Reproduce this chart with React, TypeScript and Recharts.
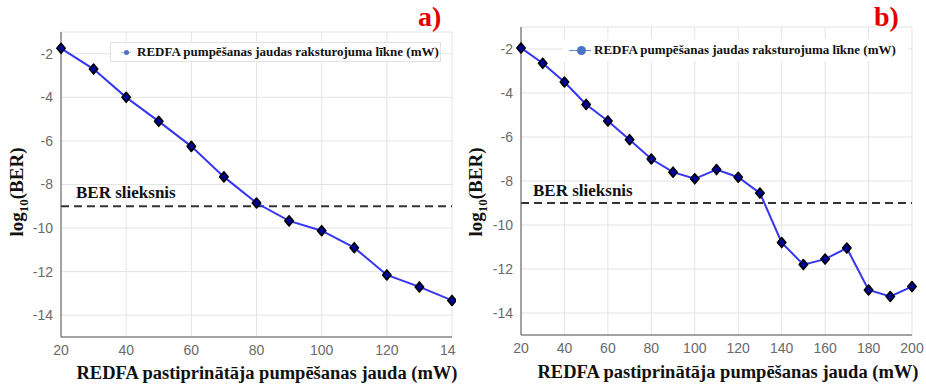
import React from 'react';
import { LineChart, Line, XAxis, YAxis, CartesianGrid, ReferenceLine } from 'recharts';

// Panel a) – pump power 20..140 mW
const powerA = [20, 30, 40, 50, 60, 70, 80, 90, 100, 110, 120, 130, 140];
const berA = [-1.75, -2.7, -4.0, -5.1, -6.25, -7.65, -8.85, -9.67, -10.12, -10.9, -12.15, -12.7, -13.32];

// Panel b) – pump power 20..200 mW
const powerB = [20, 30, 40, 50, 60, 70, 80, 90, 100, 110, 120, 130, 140, 150, 160, 170, 180, 190, 200];
const berB = [-1.95, -2.65, -3.5, -4.52, -5.27, -6.12, -7.0, -7.6, -7.9, -7.48, -7.83, -8.55, -10.8, -11.8, -11.55, -11.05, -12.95, -13.25, -12.8];

const ticksA = [20, 40, 60, 80, 100, 120, 140];
const ticksB = [20, 40, 60, 80, 100, 120, 140, 160, 180, 200];
const yTicks = [-14, -12, -10, -8, -6, -4, -2];
const BER_THRESHOLD = -9;

const xLabel = 'REDFA pastiprinātāja pumpēšanas jauda (mW)';
const legendLabel = 'REDFA pumpēšanas jaudas raksturojuma līkne (mW)';
const thresholdLabel = 'BER slieksnis';

const SERIF = '"Liberation Serif", "Times New Roman", serif';
const SANS = '"Liberation Sans", Arial, sans-serif';

const toRows = (xs: number[], ys: number[]) => xs.map((p, i) => ({ power: p, ber: ys[i] }));

const DiamondDot = (props: any) => {
  const { cx, cy } = props;
  if (cx == null || cy == null) return null;
  return (
    <path
      d={`M${cx},${cy - 5} L${cx + 4.2},${cy} L${cx},${cy + 5} L${cx - 4.2},${cy} Z`}
      fill="#00009a"
      stroke="#000"
      strokeWidth={1.6}
      strokeLinejoin="round"
    />
  );
};

// the left figure is cropped at its right edge, so its last tick only shows "14"
const CroppedTick = (props: any) => {
  const { x, y, payload, lastValue } = props;
  const isLast = payload.value === lastValue;
  return (
    <text
      x={isLast ? x - 12 : x}
      y={y}
      dy="0.71em"
      textAnchor={isLast ? 'start' : 'middle'}
      fill="#6a6a6a"
      fontSize={14}
      fontFamily={SANS}
    >
      {isLast ? String(payload.value).slice(0, 2) : payload.value}
    </text>
  );
};

type PanelProps = {
  left: number;
  width: number;
  yAxisWidth: number;
  right: number;
  top: number;
  xAxisHeight: number;
  xs: number[];
  ys: number[];
  ticks: number[];
  cropped?: boolean;
};

const Panel = ({ left, width, yAxisWidth, right, top, xAxisHeight, xs, ys, ticks, cropped }: PanelProps) => (
  <div style={{ position: 'absolute', left, top: 0, width, height: 385, overflow: 'hidden' }}>
    <LineChart
      width={width}
      height={385}
      data={toRows(xs, ys)}
      margin={{ top, right, bottom: 0, left: 0 }}
    >
      <CartesianGrid stroke="#e4e4e4" strokeWidth={1} />
      <XAxis
        dataKey="power"
        type="number"
        domain={[ticks[0], ticks[ticks.length - 1]]}
        ticks={ticks}
        height={xAxisHeight}
        tickLine={false}
        axisLine={{ stroke: '#555' }}
        tick={cropped ? <CroppedTick lastValue={ticks[ticks.length - 1]} /> : { fill: '#6a6a6a', fontSize: 14, fontFamily: SANS }}
        interval={0}
      />
      <YAxis
        type="number"
        domain={[-15, -1]}
        ticks={yTicks}
        width={yAxisWidth}
        tickLine={false}
        axisLine={{ stroke: '#555' }}
        tick={{ fill: '#6a6a6a', fontSize: 14, fontFamily: SANS }}
        interval={0}
      />
      <ReferenceLine y={BER_THRESHOLD} stroke="#333" strokeWidth={2} strokeDasharray="8 5" />
      <Line
        dataKey="ber"
        stroke="#3535f2"
        strokeWidth={2}
        dot={<DiamondDot />}
        activeDot={false}
        isAnimationActive={false}
      />
    </LineChart>
  </div>
);

const abs = (style: React.CSSProperties): React.CSSProperties => ({ position: 'absolute', whiteSpace: 'nowrap', ...style });

const App = () => (
  <div style={{ position: 'absolute', left: 0, top: 0, width: 926, height: 385, background: '#fff', overflow: 'hidden' }}>
    <Panel left={0} width={456} yAxisWidth={61} right={4} top={32} xAxisHeight={48} xs={powerA} ys={berA} ticks={ticksA} cropped />
    <Panel left={463} width={463} yAxisWidth={58} right={14} top={27} xAxisHeight={50} xs={powerB} ys={berB} ticks={ticksB} />

    {/* panel letters */}
    <div style={abs({ left: 418, top: 1, color: '#e00000', font: `bold 28px ${SERIF}` })}>a)</div>
    <div style={abs({ left: 874, top: 1, color: '#e00000', font: `bold 28px ${SERIF}` })}>b)</div>

    {/* legends */}
    <div style={abs({ left: 110, top: 42, width: 331, height: 20, background: '#fff', border: '1px solid #e2e2e2', boxSizing: 'border-box' })}>
      <span style={abs({ left: 10, top: 9, width: 10, height: 1, background: '#a8bce6' })} />
      <span style={abs({ left: 13, top: 7, width: 5, height: 5, borderRadius: 3, background: '#4a72c8' })} />
      <span style={abs({ left: 26, top: 1, font: `bold 13px ${SERIF}`, color: '#111' })}>{legendLabel}</span>
    </div>
    <div style={abs({ left: 563, top: 39, width: 345, height: 22, background: '#fff' })}>
      <span style={abs({ left: 6, top: 11, width: 22, height: 1, background: '#6a8ad0' })} />
      <span style={abs({ left: 14, top: 7, width: 9, height: 9, borderRadius: 5, background: '#4a72c8' })} />
      <span style={abs({ left: 31, top: 3, font: `bold 13px ${SERIF}`, color: '#111' })}>{legendLabel}</span>
    </div>

    {/* threshold labels */}
    <div style={abs({ left: 76, top: 183, font: `bold 17px ${SERIF}`, color: '#111' })}>{thresholdLabel}</div>
    <div style={abs({ left: 533, top: 181, font: `bold 17px ${SERIF}`, color: '#111' })}>{thresholdLabel}</div>

    {/* x axis titles */}
    <div style={abs({ left: 267, top: 363, transform: 'translateX(-50%)', font: `bold 18.5px ${SERIF}`, color: '#111' })}>{xLabel}</div>
    <div style={abs({ left: 728, top: 362, transform: 'translateX(-50%)', font: `bold 18.5px ${SERIF}`, color: '#111' })}>{xLabel}</div>

    {/* y axis titles */}
    {[19, 478].map((cx) => (
      <div
        key={cx}
        style={abs({ left: cx, top: 192, transform: 'translate(-50%, -50%) rotate(-90deg)', font: `bold 19px ${SERIF}`, color: '#111' })}
      >
        log<sub style={{ fontSize: 13 }}>10</sub>(BER)
      </div>
    ))}
  </div>
);

export default App;
